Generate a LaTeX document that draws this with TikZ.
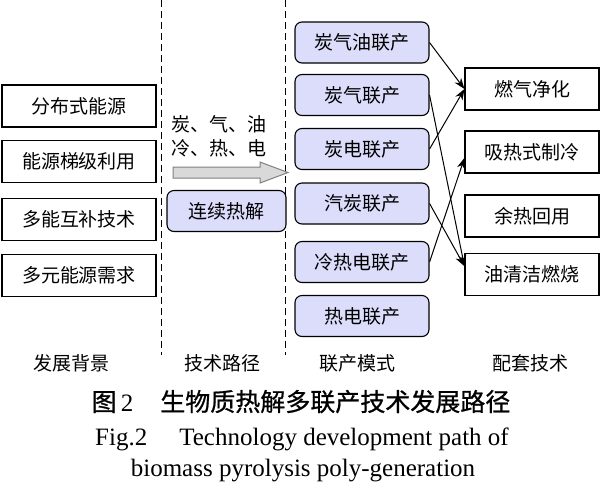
\documentclass[tikz,border=0pt]{standalone}
\usepackage{fontspec}
\setmainfont{Liberation Serif}
\newfontfamily\zh{Noto Sans CJK SC}
\newfontfamily\zhcap[FakeBold=0.8]{Noto Sans CJK SC}
\usepackage{tikz}
\usetikzlibrary{arrows.meta}
\definecolor{boxblue}{RGB}{220,221,250}
\definecolor{arrowgray}{RGB}{217,217,217}
\tikzset{
  plainbox/.style={draw, line width=1.1pt, minimum width=154pt, minimum height=42pt,
    inner sep=0pt, font=\zh\fontsize{19}{22}\selectfont},
  modebox/.style={plainbox, fill=boxblue, rounded corners=7pt, minimum width=134pt, minimum height=41pt},
  techbox/.style={plainbox, minimum width=134pt},
  link/.style={line width=1pt, -{Stealth[length=11pt,width=8pt]}},
  divider/.style={line width=0.9pt, dash pattern=on 7pt off 4pt},
  colhead/.style={font=\zh\fontsize{19}{24}\selectfont}
}

\begin{document}
\begin{tikzpicture}[x=1pt,y=-1pt]
    \useasboundingbox (0,0) rectangle (600,483);
    % column dividers
    \draw[divider] (161,0) -- (161,355);
    \draw[divider] (285,0) -- (285,355);
    % background
    \foreach \y/\t [count=\i] in {106/分布式能源,161.5/能源梯级利用,219.5/多能互补技术,275.5/多元能源需求}
      \node[plainbox] (b\i) at (79,\y) {\t};
    % path
    \node[colhead, anchor=west, align=left] (prod) at (168,136) {炭、气、油\\冷、热、电};
    \draw[line width=1pt, draw=gray, fill=arrowgray] (173,167) -- (260,167) -- (260,162) -- (288,172.5)
      -- (260,183) -- (260,178) -- (173,178) -- cycle;
    \node[modebox, minimum width=119pt] (pyro) at (226.5,211) {连续热解};
    % modes
    \foreach \y/\t [count=\i] in {42.5/炭气油联产,95/炭气联产,149/炭电联产,203.5/汽炭联产,262/冷热电联产,316/热电联产}
      \node[modebox] (m\i) at (362,\y) {\t};
    % supporting technologies
    \foreach \y/\t [count=\i] in {89/燃气净化,152/吸热式制冷,216/余热回用,274.5/油清洁燃烧}
      \node[techbox] (r\i) at (532,\y) {\t};
    \draw[link] (m1.east) -- (r1.west);
    \draw[link] (m3.east) -- (r1.west);
    \draw[link] (m2.east) -- (r4.173);
    \draw[link] (m4.east) -- (r4.173);
    \draw[link] (m5.east) -- (r2.185);
    % column heads
    \node[colhead] (h1) at (72,363) {发展背景};
    \node[colhead] (h2) at (222,363) {技术路径};
    \node[colhead] (h3) at (357,363) {联产模式};
    \node[colhead] (h4) at (530,363) {配套技术};
    % caption
    \node[font=\zhcap\fontsize{25}{30}\selectfont, anchor=base] (cap) at (301,411)
      {图\,{\rmfamily 2}\hspace{27pt}生物质热解多联产技术发展路径};
    \node[font=\fontsize{25}{30}\selectfont, anchor=base] (fig) at (302,445)
      {Fig.2\hspace{32pt}Technology development path of};
    \node[font=\fontsize{25}{30}\selectfont, anchor=base] (figb) at (303,476)
      {biomass pyrolysis poly-generation};
\end{tikzpicture}
\end{document}
